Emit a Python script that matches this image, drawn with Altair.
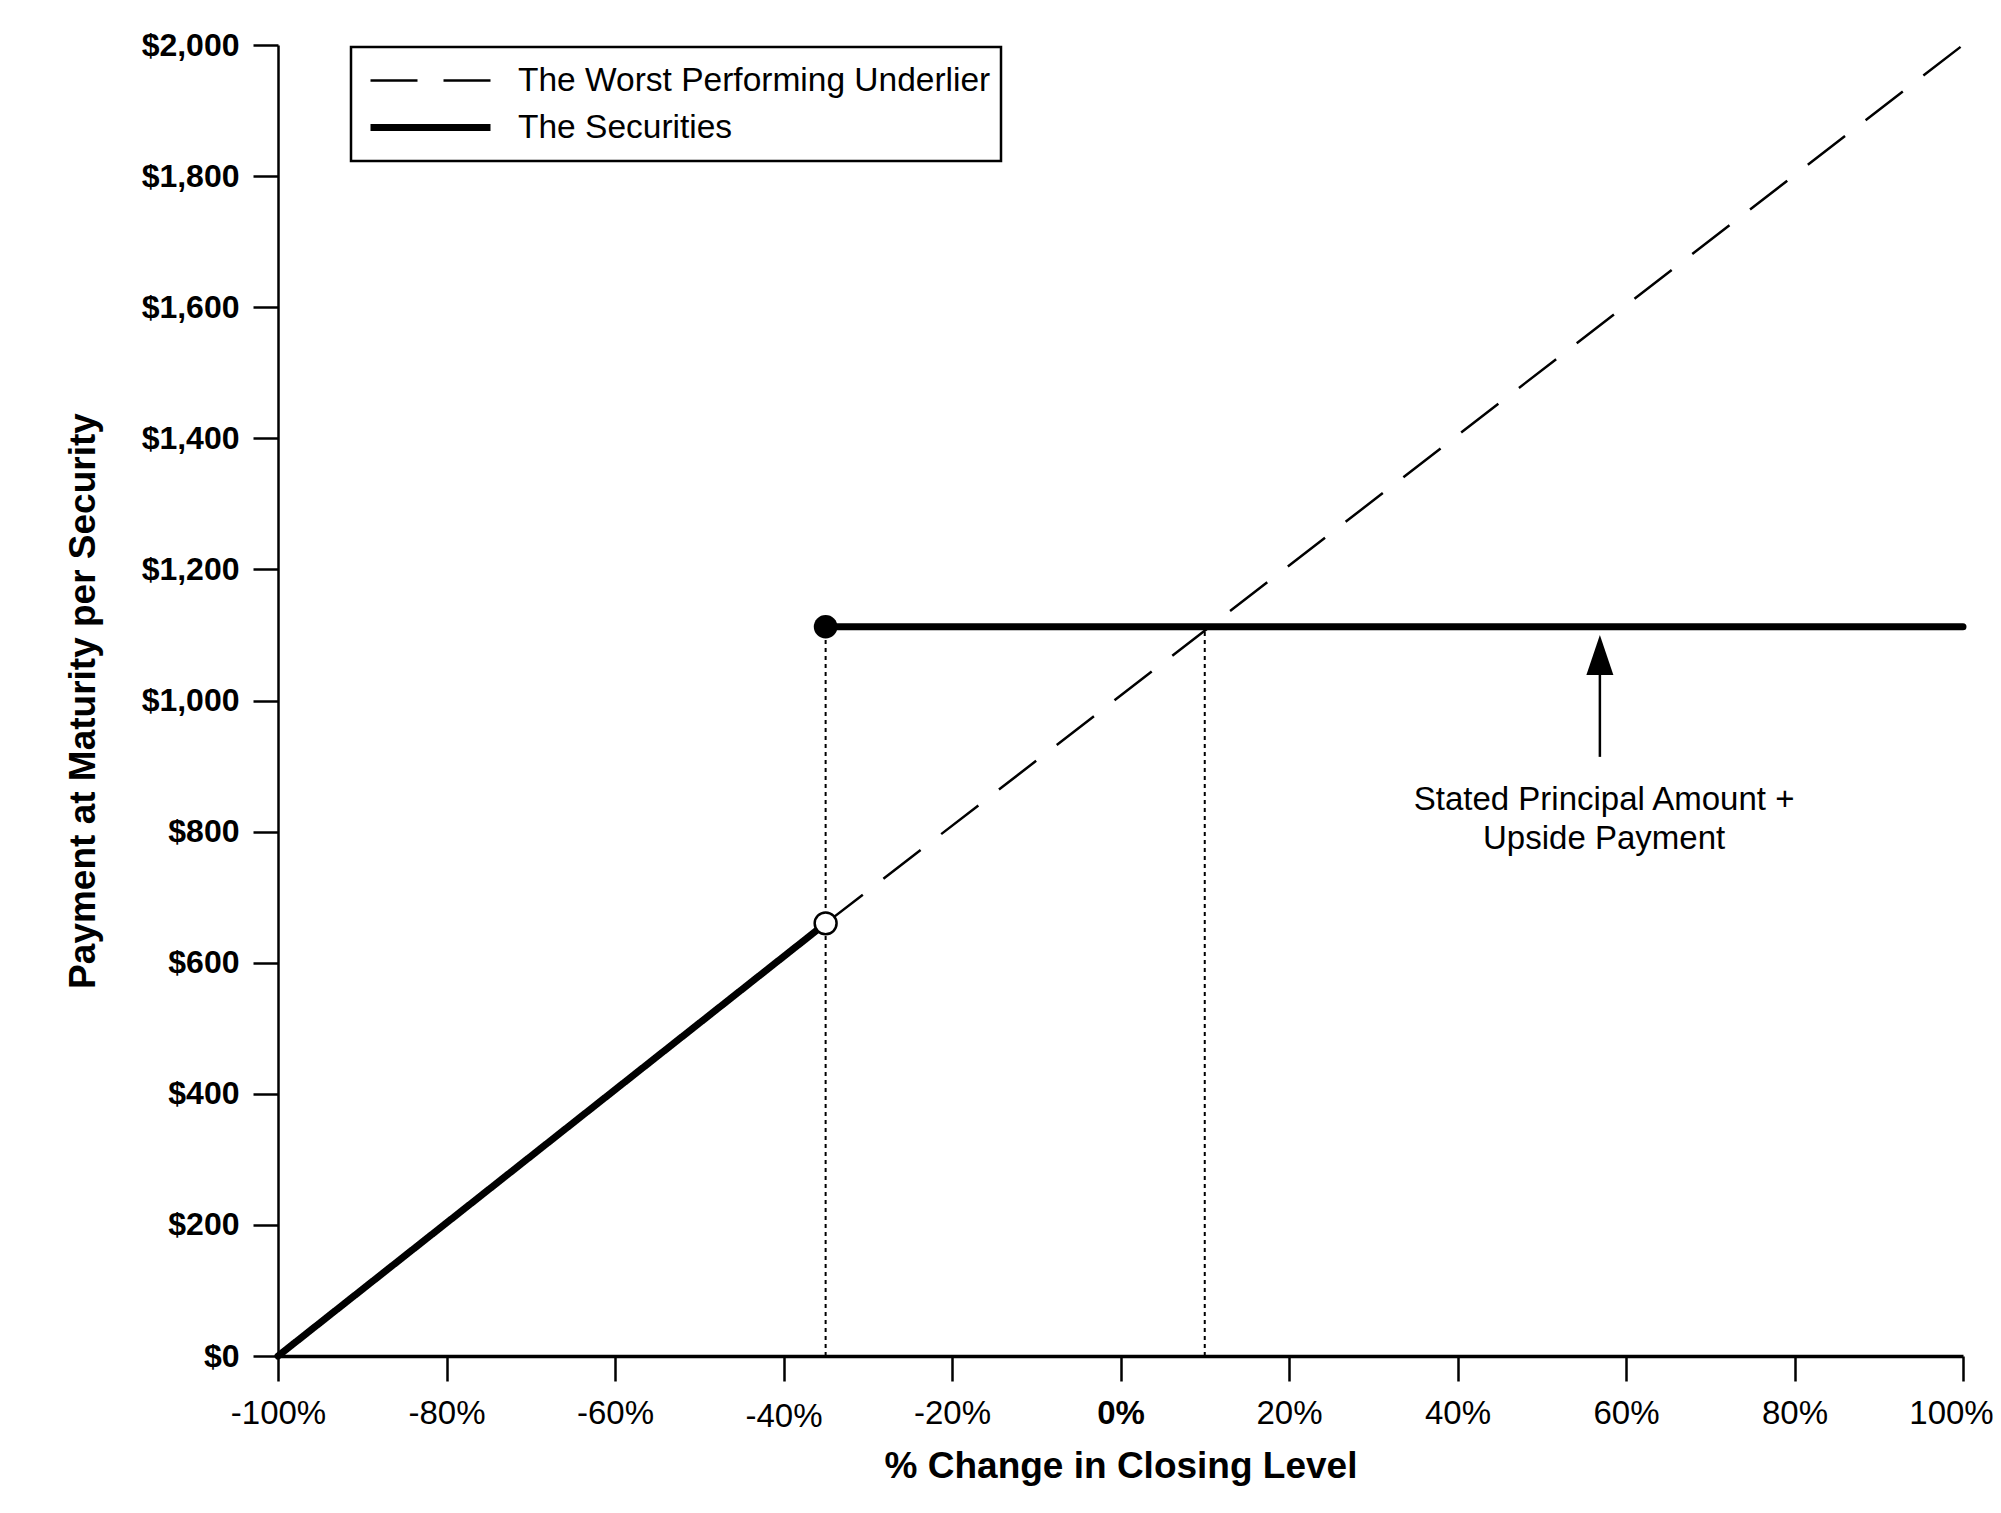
import altair as alt
import pandas as pd

# ---- data ----
series_names = ["The Worst Performing Underlier", "The Securities"]

# visible part of the dashed underlier line (below the barrier it lies under the solid line)
underlier_x = [-35, 100]
underlier_y = [660, 2000]

securities_x = [-100, -35, -35, 100]
securities_y = [0, 660, 1112.5, 1112.5]
securities_segment = ["below", "below", "above", "above"]

guide_x = [-35, 10]
guide_bottom = [0, 0]
guide_top = [1112.5, 1112.5]

filled_x = [-35]
filled_y = [1112.5]
open_x = [-35]
open_y = [660]

arrow_x = [56.9]
arrow_from = [914]
arrow_to = [1040]
arrowhead_y = [1069.5]

note_lines = ["Stated Principal Amount +", "Upside Payment"]
note_x = [57.4, 57.4]
note_y = [833, 773]

x_ticks = [-100, -80, -60, -40, -20, 0, 20, 40, 60, 80, 100]
y_ticks = [0, 200, 400, 600, 800, 1000, 1200, 1400, 1600, 1800, 2000]

FONT = "Liberation Sans"
W, H = 1685, 1311

und_df = pd.DataFrame({"x": underlier_x, "y": underlier_y, "series": series_names[0]})
sec_df = pd.DataFrame({"x": securities_x, "y": securities_y, "series": series_names[1],
                       "segment": securities_segment})
guide_df = pd.DataFrame({"x": guide_x, "y": guide_bottom, "y2": guide_top})
filled_df = pd.DataFrame({"x": filled_x, "y": filled_y})
open_df = pd.DataFrame({"x": open_x, "y": open_y})
arrow_df = pd.DataFrame({"x": arrow_x, "y": arrow_from, "y2": arrow_to})
head_df = pd.DataFrame({"x": arrow_x, "y": arrowhead_y})
note_df = pd.DataFrame({"x": note_x, "y": note_y, "text": note_lines})

x_axis = alt.Axis(
    values=x_ticks, labelExpr="datum.value + '%'", grid=False,
    labelFont=FONT, labelFontSize=33, labelColor="black",
    labelFontWeight={"condition": {"test": "datum.value === 0", "value": "bold"}, "value": "normal"},
    labelOffset={"condition": {"test": "datum.value === 100", "value": -12}, "value": 0},
    labelPadding={"condition": {"test": "datum.value === -40", "value": 19}, "value": 16},
    labelFlush=False, labelOverlap=False,
    tickSize=25, tickWidth=2.5, tickColor="black",
    domainWidth=3.5, domainColor="black",
    title="% Change in Closing Level", titleFont=FONT, titleFontSize=37,
    titleFontWeight="bold", titleColor="black", titleX=W / 2, titleY=121,
    titleBaseline="alphabetic", titleAlign="center",
)
y_axis = alt.Axis(
    values=y_ticks, labelExpr="'$' + format(datum.value, ',')", grid=False,
    labelFont=FONT, labelFontSize=32, labelFontWeight="bold", labelColor="black",
    labelPadding=14, labelFlush=False, labelOverlap=False,
    tickSize=25, tickWidth=2.5, tickColor="black",
    domainWidth=2.5, domainColor="black",
    title="Payment at Maturity per Security", titleFont=FONT, titleFontSize=37,
    titleFontWeight="bold", titleColor="black", titleAngle=270,
    titleX=-184, titleY=H / 2, titleBaseline="alphabetic", titleAlign="center",
)

xs = alt.Scale(domain=[-100, 100], nice=False, zero=False)
ys = alt.Scale(domain=[0, 2000], nice=False, zero=False)


def X():
    return alt.X("x:Q", scale=xs, axis=x_axis)


def Y():
    return alt.Y("y:Q", scale=ys, axis=y_axis)


legend = alt.Legend(
    title=None, orient="none", legendX=73, legendY=2, direction="vertical",
    symbolType="stroke", symbolSize=14400, symbolStrokeColor="black",
    clipHeight=47, rowPadding=0, padding=10, symbolOffset=6, labelOffset=24,
    labelFont=FONT, labelFontSize=33.5, labelColor="black", labelLimit=1000,
    strokeColor="black", fillColor="white",
)
dash_enc = alt.StrokeDash("series:N", scale=alt.Scale(domain=series_names, range=[[47, 26], [1, 0]]),
                          legend=legend)
width_enc = alt.StrokeWidth("series:N", scale=alt.Scale(domain=series_names, range=[2.5, 7]),
                            legend=legend)

guides = alt.Chart(guide_df).mark_rule(color="black", strokeWidth=2, strokeDash=[4, 4]).encode(
    x=X(), y=Y(), y2="y2:Q")

underlier = alt.Chart(und_df).mark_line(color="black", strokeCap="butt").encode(
    x=X(), y=Y(), strokeDash=dash_enc, strokeWidth=width_enc)

securities = alt.Chart(sec_df).mark_line(color="black", strokeCap="round").encode(
    x=X(), y=Y(), detail="segment:N", strokeDash=dash_enc, strokeWidth=width_enc)

filled_pt = alt.Chart(filled_df).mark_point(shape="circle", filled=True, color="black",
                                            size=560, opacity=1).encode(x=X(), y=Y())
open_pt = alt.Chart(open_df).mark_point(shape="circle", filled=True, fill="white", stroke="black",
                                        strokeWidth=2.5, size=480, opacity=1).encode(x=X(), y=Y())

arrow = alt.Chart(arrow_df).mark_rule(color="black", strokeWidth=2.5).encode(x=X(), y=Y(), y2="y2:Q")
head = alt.Chart(head_df).mark_point(shape="M0,-1L0.675,1L-0.675,1Z", filled=True, color="black",
                                     size=1600, opacity=1).encode(x=X(), y=Y())

note = alt.Chart(note_df).mark_text(font=FONT, fontSize=33, align="center", baseline="alphabetic",
                                    color="black").encode(x=X(), y=Y(), text="text:N")

chart = alt.layer(guides, underlier, securities, filled_pt, open_pt, arrow, head, note).properties(
    width=W, height=H,
    autosize=alt.AutoSizeParams(type="none"),
    padding={"left": 270, "top": 37, "right": 30, "bottom": 150},
    background="white",
).configure_view(stroke=None).configure_legend(strokeWidth=2.5)

chart.save("out.html", embed_options={"renderer": "svg", "actions": False})
